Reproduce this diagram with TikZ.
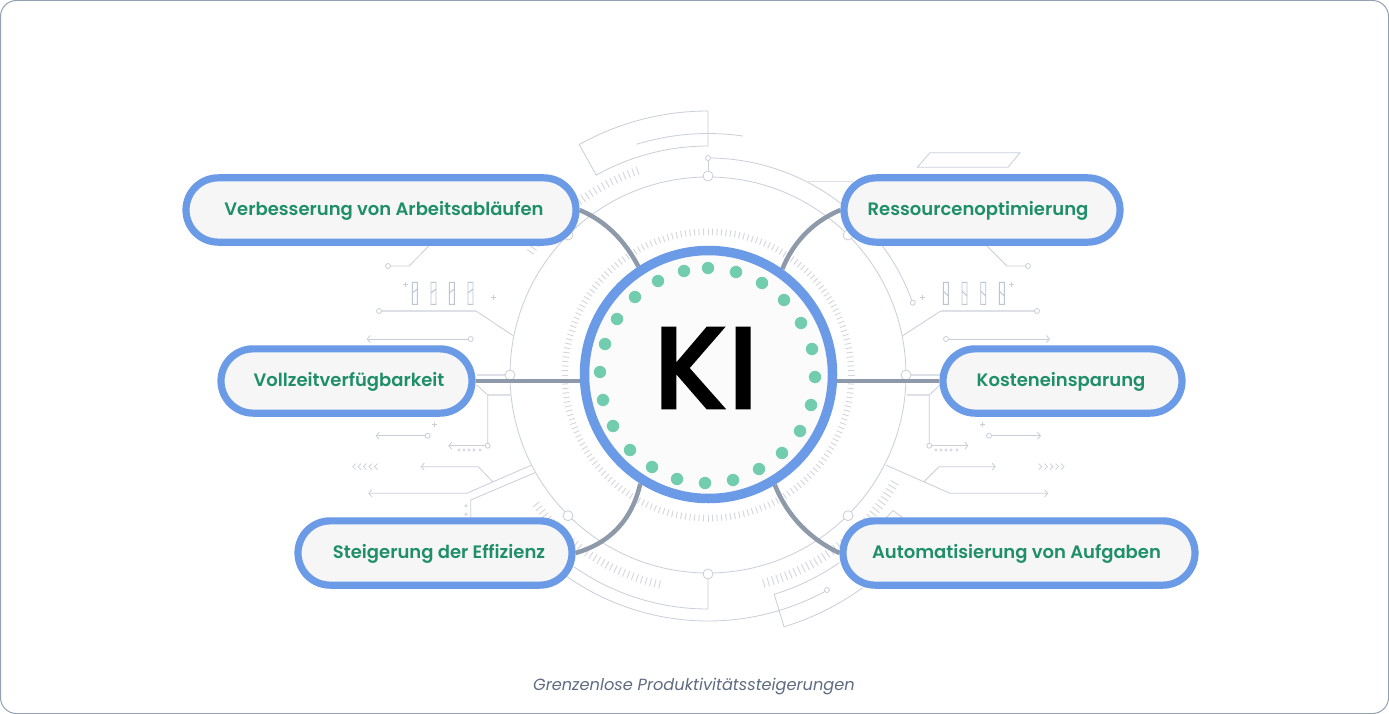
\documentclass[tikz,border=0pt]{standalone}
\usepackage{fontspec}
\setmainfont{Poppins}
\newfontfamily\popsemi{Poppins}[UprightFont=* SemiBold]
\newfontfamily\popki{Poppins}[UprightFont=* Medium,UprightFeatures={FakeBold=1.4}]
\usetikzlibrary{arrows.meta,backgrounds,shapes.misc}
\definecolor{ringblue}{HTML}{6B9AE6}
\definecolor{pillfill}{HTML}{F6F6F7}
\definecolor{labelgreen}{HTML}{1F8F68}
\definecolor{dotgreen}{HTML}{72CDAE}
\definecolor{linkgray}{HTML}{8E9AA9}
\definecolor{decor}{HTML}{C9CED9}
\definecolor{decorlight}{HTML}{DDE0E7}
\definecolor{tickcol}{HTML}{D2D6DE}
\definecolor{tubecol}{HTML}{BCC5D4}
\definecolor{framecol}{HTML}{93A2B1}
\definecolor{captioncol}{HTML}{5F6B80}
\tikzset{
  pill/.style={rounded rectangle,draw=ringblue,line width=7.2pt,fill=pillfill,minimum height=64.3pt,inner sep=0pt,text height=14pt,text depth=4pt,text=labelgreen,font=\popsemi\fontsize{18}{20}\selectfont},
  link/.style={draw=linkgray,line width=4.5pt},
  thin decor/.style={draw=decor,line width=0.8pt},
  pale decor/.style={draw=decorlight,line width=1.6pt},
  tickmark/.style={draw=tickcol,line width=0.9pt},
  big ring/.style={draw=decor,line width=0.8pt,fill=white},
  arrowline/.style={thin decor,-{Straight Barb[length=3pt,width=7pt]}},
}
\newcommand{\bigdot}[1]{\draw[big ring] (#1) circle (5);}
\newcommand{\smalldot}[1]{\draw[big ring] (#1) circle (2.5);}
\begin{document}
\begin{tikzpicture}[x=1pt,y=-1pt]
\useasboundingbox (0,0) rectangle (1389,714);
\begin{scope}[on background layer]
\fill[white] (0,0) rectangle (1389,714);
\draw[framecol,line width=1pt,rounded corners=16pt] (0.5,0.5) rectangle (1388.5,713.5);
% polar decoration
\begin{scope}[shift={(708,375)},x=1pt,y=1pt]
\draw[thin decor] (0,0) circle (198);
\foreach \a in {0,1.8,...,358.2} \draw[tickmark] (\a:140) -- (\a:146.5);
\foreach \a in {109,110.25,...,146} \draw[tickmark] (\a:212) -- (\a:220);
\foreach \a in {217,218.25,...,258} \draw[tickmark] (\a:211) -- (\a:219);
\foreach \a in {285,286.25,...,330} \draw[tickmark] (\a:211) -- (\a:220);
% top-left box
\draw[thin decor] (90:229) -- (90:264) arc[start angle=90,end angle=119.2,radius=264] -- (119.2:229) arc[start angle=119.2,end angle=90,radius=229];
\draw[thin decor] (107.2:241.5) arc[start angle=107.2,end angle=81.7,radius=241.5];
% top-right arc
\draw[thin decor] (90:217) arc[start angle=90,end angle=19.4,radius=217];
% bottom arcs
\draw[thin decor] (235:234) arc[start angle=235,end angle=270,radius=234] -- (270:198);
\draw[thin decor] (235:246) arc[start angle=235,end angle=299,radius=246];
% bottom-right box
\draw[thin decor] (306:263) arc[start angle=306,end angle=286.8,radius=263] -- (286.8:229) arc[start angle=286.8,end angle=305,radius=229];
\end{scope}
% top right
\draw[thin decor] (708,158) -- (708,176);
\draw[thin decor] (917.3,167.3) -- (930,152.7) -- (1020,152.7) -- (1008,167.3) -- cycle;
\draw[pale decor] (808,181.7) -- (853,181.7);
% upper corner leaders
\draw[thin decor] (429,245.7) -- (409,266) -- (388,266);
\draw[thin decor] (986.7,245.7) -- (1007,266) -- (1028,266);
\smalldot{388,266} \smalldot{1028,266}
\smalldot{708,158} \smalldot{912.7,302.7} \smalldot{827,590}
% plus signs
\foreach \p in {(405,284.3),(493.7,297.3),(922.7,297.3),(1011,284.3),(434,424),(982.7,424)}
  \draw[decor,line width=0.7pt] \p ++(-2.5,0) -- ++(5,0) \p ++(0,-2.5) -- ++(0,5);
% tubes
\foreach \x in {412.3,431,449.3,468}
  \draw[tubecol,line width=0.9pt] (\x,282.3) rectangle ++(5,22) (\x,293) -- ++(5,-4);
\foreach \x in {943.3,962,980.7,999.3}
  \draw[tubecol,line width=0.9pt] (\x,282.3) rectangle ++(5,22) (\x,291) -- ++(5,5);
% side lines
\draw[pale decor,line width=1.1pt] (379,311) -- (476,311);
\draw[thin decor] (476,311) -- (513.3,335.7);
\smalldot{379,311}
\draw[pale decor,line width=1.1pt] (1037,311) -- (940.7,311);
\draw[thin decor] (940.7,311) -- (902.7,335.7);
\smalldot{1037,311}
\draw[arrowline] (470.7,339) -- (366.7,339);
\smalldot{470.7,339}
\draw[arrowline] (946,339) -- (1050,339);
\smalldot{946,339}
% left middle
\draw[pale decor] (476.7,375) -- (510,375);
\draw[pale decor] (906.7,375) -- (940,375);
\draw[pale decor] (487.7,395) -- (510.7,395);
\draw[thin decor] (476.7,385) -- (487.7,395) -- (487.7,445.7);
\draw[arrowline] (487.7,445.7) -- (448.3,445.7);
\smalldot{487.7,445.7}
\foreach \x in {459,464,469,474,480} \draw[decor,line width=0.6pt] (\x,450) circle (1.2);
\draw[arrowline] (427.7,435.7) -- (375.7,435.7);
\smalldot{427.7,435.7}
\foreach \x in {352.7,358,363.5,369,374.5}
  \draw[decor,line width=0.7pt] (\x+3,463.7) -- (\x,466.7) -- (\x+3,469.7);
\draw[arrowline] (492.7,481.7) -- (478.3,466.7) -- (420.7,466.7);
\draw[arrowline] (531.7,465) -- (466.7,493.3) -- (368.3,493.3);
\draw[thin decor] (535,472.7) -- (470.7,500) -- (470.7,520);
\foreach \y in {505.7,514.3} \draw[decor,line width=0.6pt] (466,\y) circle (1.2);
% right middle
\draw[pale decor] (906.7,395) -- (929.3,395);
\draw[thin decor] (940,385) -- (929.3,395) -- (929.3,445.7);
\draw[arrowline] (929.3,445.7) -- (968.3,445.7);
\smalldot{929.3,445.7}
\foreach \x in {936,941,946,951,957} \draw[decor,line width=0.6pt] (\x,450) circle (1.2);
\draw[arrowline] (989,435.7) -- (1041,435.7);
\smalldot{989,435.7}
\foreach \x in {1040.7,1046.5,1052,1057.5,1063}
  \draw[decor,line width=0.7pt] (\x-2,463.7) -- (\x+1,466.7) -- (\x-2,469.7);
\draw[arrowline] (924,481.7) -- (939,466.7) -- (995.7,466.7);
\draw[arrowline] (885.7,465) -- (950,493.3) -- (1048.3,493.3);
\draw[thin decor] (886,518) -- (893,510.5) -- (903,518);
% ring junctions
\bigdot{708,176} \bigdot{510,375} \bigdot{906,375} \bigdot{708,574}
\bigdot{568,235} \bigdot{848,235} \bigdot{568,515.7} \bigdot{848,515.7}
\end{scope}
% nodes
\node[circle,draw=ringblue,line width=9.5pt,fill=white!60!pillfill,minimum size=248pt,inner sep=0pt] (hub) at (708.5,374.5) {};
\node[font=\popki\fontsize{117}{117}\selectfont,text=black,inner sep=0pt] (ki) at (706,368) {KI};
\foreach \x/\y in {708/268,736/272,762/283,784/300,801/323,812/349,815/377,811/405,800/431,782/453,759/469,733/480,705/483,677/479,652/467,630/450,613/426,603/400,600/372,605/344,617/319,635/297,658/281,684/271}
  \fill[dotgreen] (\x,\y) circle (6.2);
\node[pill,minimum width=390pt] (verb) at (381,210) {\hspace*{6pt}Verbesserung von Arbeitsabläufen};
\node[pill,minimum width=276pt] (ress) at (982,210) {Ressourcenoptimierung\hspace*{8pt}};
\node[pill,minimum width=251pt] (voll) at (346.5,381) {\hspace*{5pt}Vollzeitverfügbarkeit};
\node[pill,minimum width=239pt] (kost) at (1062.5,381) {Kosteneinsparung\hspace*{3pt}};
\node[pill,minimum width=274pt] (steig) at (435,553) {\hspace*{8pt}Steigerung der Effizienz};
\node[pill,minimum width=352pt] (auto) at (1019,553) {Automatisierung von Aufgaben\hspace*{5pt}};
\node[font=\itshape\fontsize{16.2}{18}\selectfont,text=captioncol,inner sep=0pt] (cap) at (694,687) {Grenzenlose Produktivitätssteigerungen};
% connectors
\begin{scope}[on background layer]
\draw[link] (voll.east) -- (voll.east -| hub.center);
\draw[link] (kost.west) -- (kost.west -| hub.center);
\draw[link] (verb.east) .. controls (608,222) and (626,243) .. (hub.123);
\draw[link] (ress.west) .. controls (812,222) and (793,243) .. (hub.55.7);
\draw[link] (steig.east) .. controls (610,543) and (632,520) .. (hub.238.6);
\draw[link] (auto.west) .. controls (812,540) and (788,518) .. (hub.301.8);
\end{scope}
\end{tikzpicture}
\end{document}
